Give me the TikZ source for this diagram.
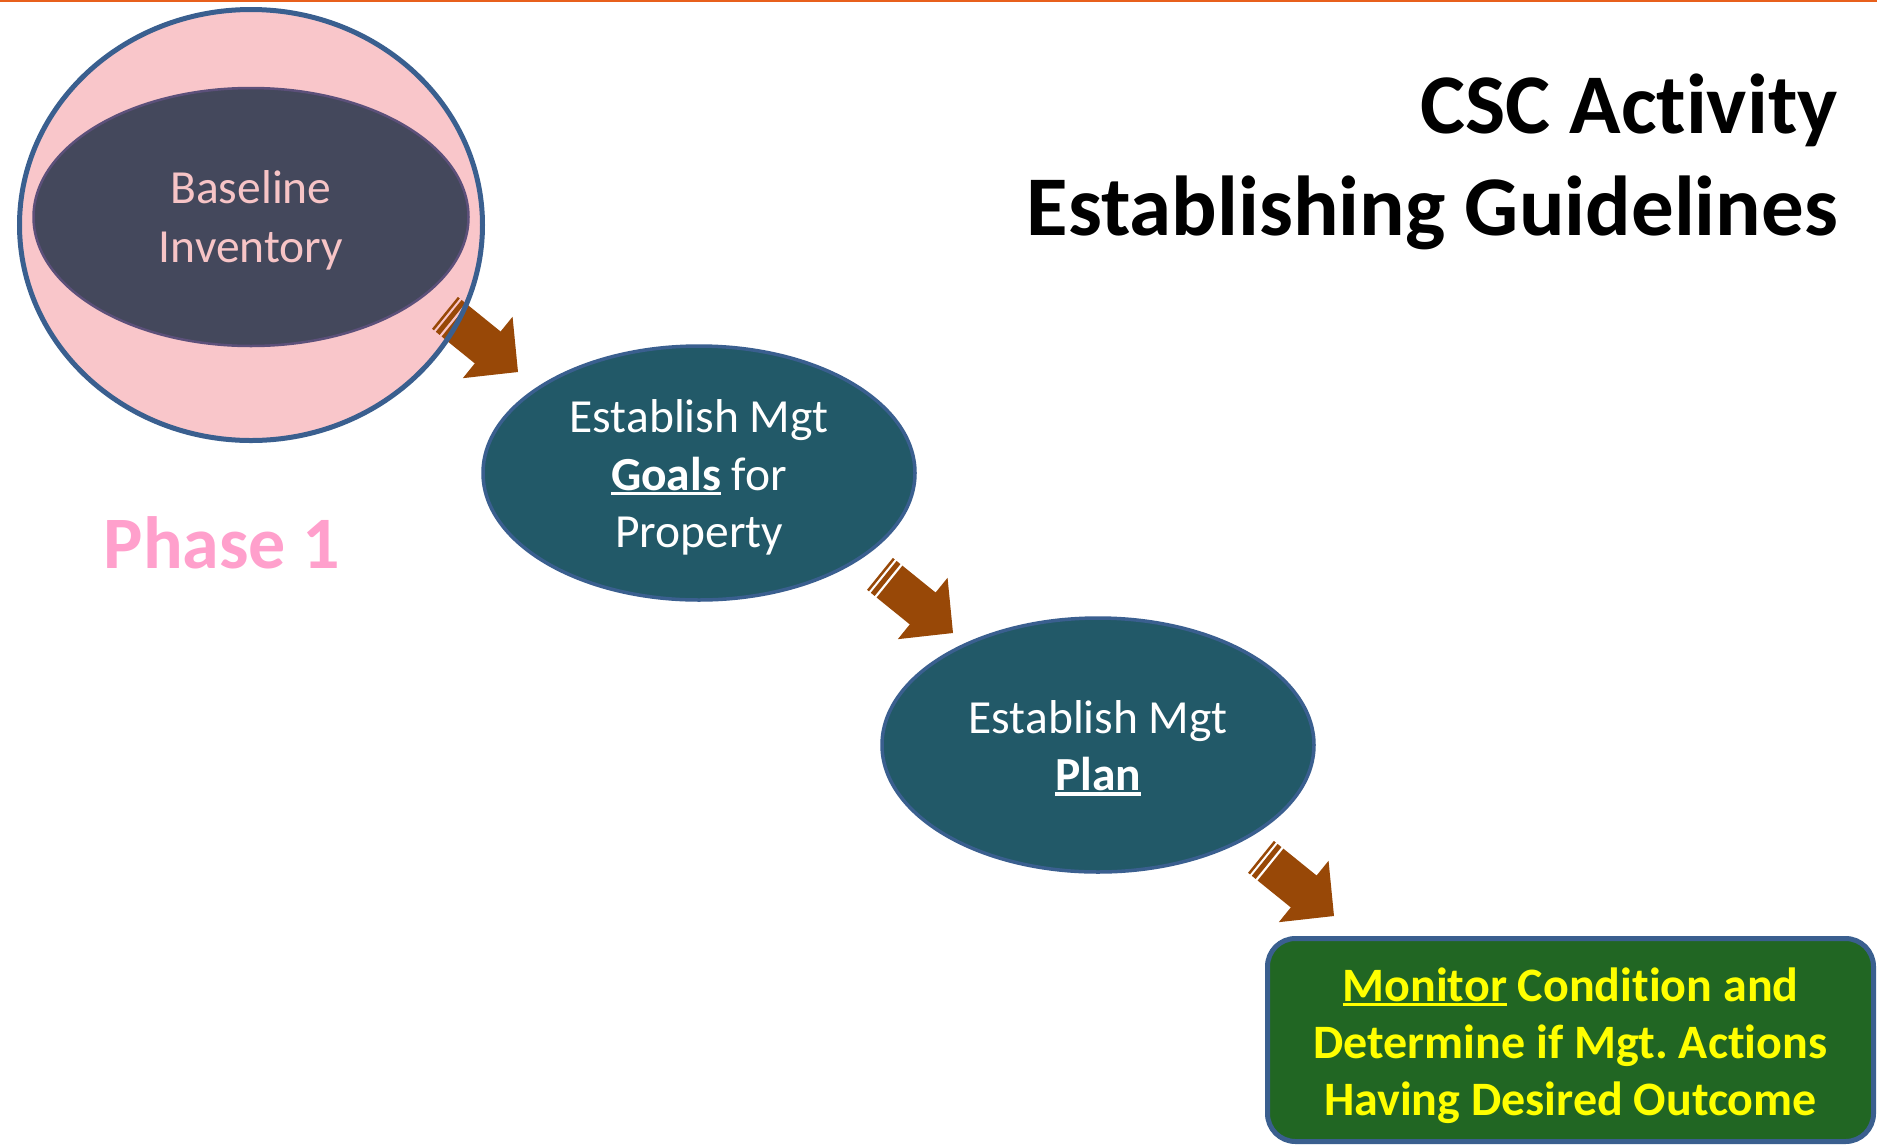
\documentclass[tikz,border=0pt]{standalone}
\usepackage{fontspec}
\setmainfont{Carlito}[Ligatures={TeX,NoCommon}]
\usetikzlibrary{shapes.geometric}
\definecolor{topline}{RGB}{232,96,28}
\definecolor{ringblue}{RGB}{58,95,143}
\definecolor{pinkfill}{RGB}{249,198,202}
\definecolor{innerfill}{RGB}{68,72,92}
\definecolor{innerline}{RGB}{92,80,122}
\definecolor{tealfill}{RGB}{34,89,104}
\definecolor{arrowbrown}{RGB}{152,72,7}
\definecolor{greenfill}{RGB}{33,102,35}
\definecolor{phasepink}{RGB}{255,160,204}
\definecolor{basetext}{RGB}{247,196,198}
\definecolor{monyellow}{RGB}{255,255,0}
\frenchspacing
\newcommand\undl[1]{\setbox0\hbox{#1}\rlap{\rule[-0.1em]{\wd0}{0.07em}}\box0\relax}
\newcommand\stripedarrow[1]{%
  \begin{scope}[shift={(#1)}, rotate=-39]
    \fill[arrowbrown] (0,0) -- (-39,39.5) -- (-39,20.5) -- (-81.7,20.5)
      -- (-81.7,-20.5) -- (-39,-20.5) -- (-39,-39.5) -- cycle;
    \fill[arrowbrown] (-84.2,-20.5) rectangle (-89.2,20.5);
    \fill[arrowbrown] (-91.5,-20.5) rectangle (-94,20.5);
  \end{scope}}
\begin{document}
\begin{tikzpicture}[x=1pt,y=-1pt,
  stage/.style={ellipse, draw=ringblue, line width=3.5pt, fill=tealfill, text=white,
    minimum width=432pt, minimum height=254pt, inner sep=0pt, align=center,
    font=\fontsize{47.5}{57.5}\selectfont}]
\useasboundingbox (0,0) rectangle (1877,1144);
\fill[white] (0,0) rectangle (1877,1144);
\fill[topline] (0,0) rectangle (1877,2);

% Phase 1 outer ring (fill)
\node[ellipse, fill=pinkfill, minimum width=463pt, minimum height=431pt, inner sep=0pt] (outer) at (251,225) {};

% arrow tips
\coordinate (t1) at (518,372);
\coordinate (t2) at (953,633);
\coordinate (t3) at (1334,916);
\stripedarrow{t1}

\draw[ringblue, line width=5pt] (outer.center) ellipse [x radius=231.5, y radius=215.5];

\node[ellipse, draw=innerline, line width=2.5pt, fill=innerfill, text=basetext,
  minimum width=435pt, minimum height=258pt, inner sep=0pt, align=center,
  font=\fontsize{47.5}{59}\selectfont] (base) at (251,217) {\rule{0pt}{40pt}Baseline\\Inventory};

\node[stage] (goals) at (699,473) {\rule{0pt}{42.5pt}Establish Mgt\\\undl{\textbf{Goals}} for\\Property};
\node[stage] (plan) at (1098,745) {\rule{0pt}{39pt}Establish Mgt\\\undl{\textbf{Plan}}};

\stripedarrow{t2}
\stripedarrow{t3}

\node[draw=ringblue, line width=5pt, fill=greenfill, rounded corners=28pt,
  minimum width=606pt, minimum height=203pt, inner sep=0pt, align=center,
  text=monyellow, font=\bfseries\fontsize{48}{57}\selectfont] (monitor) at (1570.5,1040)
  {\rule{0pt}{45pt}\undl{Monitor} Condition and\\Determine if Mgt. Actions\\Having Desired Outcome};

\node[anchor=base, inner sep=0pt, text=phasepink, font=\bfseries\fontsize{74}{88}\selectfont] (phase) at (222,568) {Phase 1};

\node[anchor=north east, inner sep=0pt, align=right, font=\bfseries\fontsize{85}{102}\selectfont] (title) at (1838,74)
  {CSC Activity\\Establishing Guidelines};
\end{tikzpicture}
\end{document}
